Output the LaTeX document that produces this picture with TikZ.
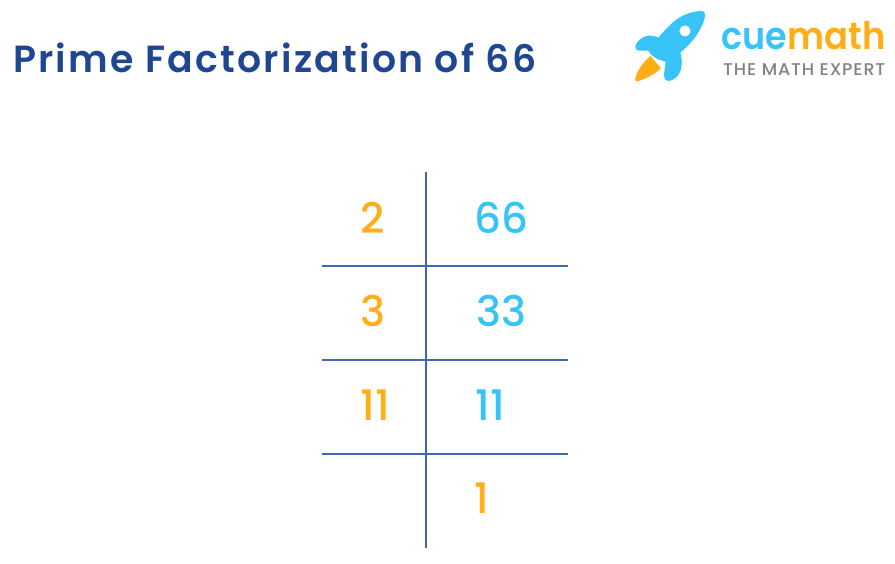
\documentclass[tikz,border=0pt]{standalone}
\usepackage{fontspec}
\setmainfont{Poppins}
\newfontfamily\titlefont[LetterSpace=6]{Poppins SemiBold}
\newfontfamily\logofont{Poppins SemiBold}
\newfontfamily\numfont{Poppins Medium}
\newfontfamily\subfont[LetterSpace=5]{Poppins Medium}
\definecolor{navy}{HTML}{1F4690}
\definecolor{rule}{HTML}{3F68AE}
\definecolor{amber}{HTML}{FFAE19}
\definecolor{sky}{HTML}{38C4F6}
\definecolor{slate}{HTML}{7F8385}
\tikzset{
  gridline/.style={draw=rule,line width=1.8pt},
  num/.style={font=\numfont\fontsize{42}{42}\selectfont,inner sep=0pt,anchor=center},
  factor/.style={num,text=amber},
  quot/.style={num,text=sky}
}
\begin{document}
\begin{tikzpicture}[x=1pt,y=-1pt]
\useasboundingbox (0,0) rectangle (895,564);
\node[anchor=west,inner sep=0pt,text=navy,font=\titlefont\fontsize{37.8}{37.8}\selectfont] (title) at (13,58) {Prime Factorization of 66};
% grid
\coordinate (vt) at (426,172); \coordinate (vb) at (426,548);
\coordinate (a1) at (322,266); \coordinate (a2) at (568,266);
\coordinate (b1) at (322,360); \coordinate (b2) at (568,360);
\coordinate (c1) at (322,454); \coordinate (c2) at (568,454);
\draw[gridline] (vt) -- (vb);
\draw[gridline] (a1) -- (a2);
\draw[gridline] (b1) -- (b2);
\draw[gridline] (c1) -- (c2);
\node[factor] (f1) at (373,218) {2};
\node[factor] (f2) at (373,311) {3};
\node[factor] (f3) at (375,405) {11};
\node[quot] (q1) at (501,218) {66};
\node[quot] (q2) at (501,311) {33};
\node[quot] (q3) at (490,405) {11};
\node[factor] (q4) at (482,498) {1};
% rocket
\begin{scope}[shift={(620,0)},x=0.3333pt,y=-0.3333pt]
\fill[amber] (92,168) .. controls (70,185) and (48,215) .. (45,240) .. controls (48,248) and (55,245) .. (62,241) .. controls (85,232) and (110,220) .. (122,204) -- cycle;
\fill[sky,even odd rule] (248,33) .. controls (215,33) and (180,45) .. (150,75)
 .. controls (137,88) and (126,100) .. (115,113)
 .. controls (95,103) and (75,105) .. (60,118)
 .. controls (50,127) and (42,138) .. (48,148)
 .. controls (55,156) and (70,150) .. (85,152)
 .. controls (90,165) and (110,180) .. (137,185)
 .. controls (136,205) and (128,225) .. (135,238)
 .. controls (145,250) and (165,238) .. (175,225)
 .. controls (187,208) and (188,180) .. (181,158)
 .. controls (200,142) and (222,120) .. (235,97)
 .. controls (250,72) and (258,50) .. (254,38)
 .. controls (253,35) and (251,33) .. (248,33) -- cycle
 (212,93) arc[start angle=0,end angle=360,radius=17];
\end{scope}
\node[inner sep=0pt,anchor=base west,text=sky,font=\logofont\fontsize{38}{38}\selectfont] (cue) at (721,50) {\scalebox{0.92}[1]{cue}};
\node[inner sep=0pt,anchor=base west,text=amber,font=\logofont\fontsize{38}{38}\selectfont] (math) at (cue.base east) {\scalebox{0.93}[1]{math}};
\node[inner sep=0pt,anchor=base west,text=slate,font=\subfont\fontsize{17}{17}\selectfont] (tag) at (723,76) {\scalebox{1.03}[1]{THE MATH EXPERT}};
\end{tikzpicture}
\end{document}
